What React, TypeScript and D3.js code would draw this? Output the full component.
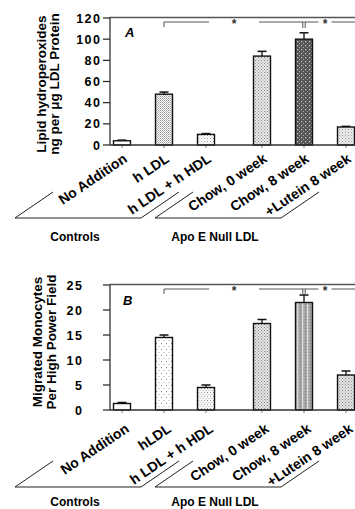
import React from "react";
import * as d3 from "d3";

// ---------- data ----------
const groups = ["Controls", "Apo E Null LDL"];
const groupIndex = [0, 0, 0, 1, 1, 1];

const categoriesA = ["No Addition", "h LDL", "h LDL + h HDL", "Chow, 0 week", "Chow, 8 week", "+Lutein 8 week"];
const valuesA = [4, 48, 10, 84, 100, 17];
const errorsA = [0.6, 2, 0.8, 4.5, 6, 0.6];
const ticksA = [0, 20, 40, 60, 80, 100, 120];
const titleA = ["Lipid hydroperoxides", "ng per \u03bcg LDL Protein"];

const categoriesB = ["No Addition", "hLDL", "h LDL + h HDL", "Chow, 0 week", "Chow, 8 week", "+Lutein 8 week"];
const valuesB = [1.3, 14.5, 4.5, 17.3, 21.5, 7];
const errorsB = [0.2, 0.5, 0.5, 0.8, 1.5, 0.8];
const ticksB = [0, 5, 10, 15, 20, 25];
const titleB = ["Migrated Monocytes", "Per High Power Field"];

const sigPairs = [[1, 4], [4, 5]];
const sigLabel = "*";

// ---------- styles ----------
const FONT = "'Liberation Sans', Arial, Helvetica, sans-serif";
const W = 355;
const H = 509;
const fillsA = ["#fff", "url(#pA1)", "url(#pA2)", "url(#pA3)", "url(#pA4)", "url(#pA5)"];
const fillsB = ["#fff", "url(#pB1)", "url(#pB2)", "url(#pB3)", "url(#pB4)", "url(#pB5)"];
const sigGaps = [25, 6.5];

const xOuter = d3.scaleBand<string>().domain(groups).range([101, 367]).paddingInner(0.1).paddingOuter(0);
const xInner = d3.scaleBand<string>().domain(["0", "1", "2"]).range([0, xOuter.bandwidth()]);
const firstOfGroup = groups.map((_, g) => groupIndex.indexOf(g));
const xc = (i: number) =>
  (xOuter(groups[groupIndex[i]]) as number) +
  (xInner(String(i - firstOfGroup[groupIndex[i]])) as number) +
  xInner.bandwidth() / 2;

type PanelProps = {
  categories: string[];
  values: number[];
  errors: number[];
  ticks: number[];
  yTop: number;
  yBottom: number;
  title: string[];
  titleXs: number[];
  titleY: number;
  letter: string;
  letterX: number;
  letterY: number;
  fills: string[];
  labelDx: number;
  labelDy: number;
  tickLabelX: number;
  bracketY: number;
  groupLabelY: number;
};

function Panel(p: PanelProps) {
  const y = d3
    .scaleLinear()
    .domain([0, d3.max(p.ticks) as number])
    .range([p.yBottom, p.yTop]);
  const y0 = y(0);
  const axisX = 110;
  const barW = 17;
  const sigY = p.yTop + 4;
  const rise = 26;
  const run = 38;
  return (
    <g fontFamily={FONT}>
      {/* title */}
      {p.title.map((t, i) => (
        <text
          key={t}
          transform={`translate(${p.titleXs[i]},${p.titleY}) rotate(-90)`}
          textAnchor="middle"
          fontSize={13.5}
          fontWeight="bold"
        >
          {t}
        </text>
      ))}
      {/* frame */}
      <line x1={axisX} x2={W} y1={p.yTop - 0.5} y2={p.yTop - 0.5} stroke="#555" strokeWidth={1.5} />
      <line x1={axisX} x2={axisX} y1={p.yTop - 0.5} y2={y0} stroke="#222" strokeWidth={1.2} />
      {/* y ticks */}
      {p.ticks.map((t) => (
        <g key={t}>
          <line x1={axisX - 7} x2={axisX} y1={y(t)} y2={y(t)} stroke="#222" strokeWidth={1.2} />
          <text
            x={p.tickLabelX}
            y={y(t)}
            dy="0.36em"
            textAnchor="end"
            fontSize={12.5}
            fontWeight="bold"
            letterSpacing={1.5}
          >
            {t}
          </text>
        </g>
      ))}
      {/* letter */}
      <text x={p.letterX} y={p.letterY} fontSize={13} fontWeight="bold" fontStyle="italic">
        {p.letter}
      </text>
      {/* bars */}
      {p.values.map((v, i) => (
        <g key={i}>
          <line x1={xc(i)} x2={xc(i)} y1={y0} y2={y0 + 3} stroke="#777" strokeWidth={1} />
          <line x1={xc(i)} x2={xc(i)} y1={y(v)} y2={y(v + p.errors[i])} stroke="#111" strokeWidth={1.3} />
          <line
            x1={xc(i) - 4.5}
            x2={xc(i) + 4.5}
            y1={y(v + p.errors[i])}
            y2={y(v + p.errors[i])}
            stroke="#111"
            strokeWidth={1.5}
          />
          <rect
            x={xc(i) - barW / 2}
            y={y(v)}
            width={barW}
            height={y0 - y(v)}
            fill={p.fills[i]}
            stroke="#111"
            strokeWidth={1.4}
          />
        </g>
      ))}
      {/* x axis */}
      <line x1={axisX} x2={W} y1={y0} y2={y0} stroke="#333" strokeWidth={1.5} />
      {/* significance */}
      {sigPairs.map(([a, b], k) => {
        const x1 = xc(a);
        const x2 = k === sigPairs.length - 1 ? W : xc(b);
        const mid = (xc(a) + xc(b)) / 2;
        return (
          <g key={k} stroke="#555" strokeWidth={1}>
            <line x1={x1} x2={mid - sigGaps[k]} y1={sigY} y2={sigY} />
            <line x1={mid + sigGaps[k]} x2={x2} y1={sigY} y2={sigY} />
            {k === 0 ? <line x1={x1} x2={x1} y1={sigY} y2={sigY + 5} /> : null}
            {k === 0 ? (
              <>
                <line x1={xc(b) - 1.2} x2={xc(b) - 1.2} y1={sigY} y2={sigY + 6} />
                <line x1={xc(b) + 1.2} x2={xc(b) + 1.2} y1={sigY} y2={sigY + 6} />
              </>
            ) : null}
            <text x={mid} y={sigY + 6} textAnchor="middle" fontSize={12} fontWeight="bold" stroke="none" fill="#333">
              {sigLabel}
            </text>
          </g>
        );
      })}
      {/* category labels */}
      {p.categories.map((c, i) => (
        <text
          key={c + i}
          transform={`translate(${xc(i) + p.labelDx},${y0 + p.labelDy}) rotate(-34)`}
          textAnchor="end"
          fontSize={14}
          fontWeight="bold"
        >
          {c}
        </text>
      ))}
      {/* group brackets */}
      {groups.map((g) => {
        const s = (xOuter(g) as number) - 86;
        const e = (xOuter(g) as number) + 40;
        return (
          <g key={g}>
            <path
              d={`M${s + run},${p.bracketY - rise} L${s},${p.bracketY} L${e},${p.bracketY} L${e + run},${p.bracketY - rise}`}
              fill="none"
              stroke="#222"
              strokeWidth={1}
            />
            <text x={(s + e) / 2 - 3} y={p.groupLabelY} textAnchor="middle" fontSize={12} fontWeight="bold">
              {g}
            </text>
          </g>
        );
      })}
    </g>
  );
}

export default function App() {
  return (
    <svg
      width={W}
      height={H}
      viewBox={`0 0 ${W} ${H}`}
      style={{ position: "absolute", left: 0, top: 0, background: "#fff" }}
    >
      <defs>
        <pattern id="pA1" width={2} height={2} patternUnits="userSpaceOnUse">
          <rect width={2} height={2} fill="#fff" />
          <rect x={0} y={0} width={1} height={1} fill="#999" />
          <rect x={1} y={1} width={1} height={1} fill="#bbb" />
        </pattern>
        <pattern id="pA2" width={3} height={3} patternUnits="userSpaceOnUse">
          <rect width={3} height={3} fill="#fff" />
          <rect x={0} y={0} width={1} height={1} fill="#999" />
          <rect x={1.5} y={1.5} width={1} height={1} fill="#bbb" />
        </pattern>
        <pattern id="pA3" width={3} height={3} patternUnits="userSpaceOnUse">
          <rect width={3} height={3} fill="#e8e8e8" />
          <rect x={0} y={0} width={1} height={1} fill="#888" />
          <rect x={1.5} y={1.5} width={1} height={1} fill="#999" />
        </pattern>
        <pattern id="pA4" width={4} height={4} patternUnits="userSpaceOnUse">
          <rect width={4} height={4} fill="#555" />
          <rect x={1} y={1} width={1.2} height={1.2} fill="#ccc" />
          <rect x={3} y={3} width={1} height={1} fill="#aaa" />
        </pattern>
        <pattern id="pA5" width={3} height={3} patternUnits="userSpaceOnUse">
          <rect width={3} height={3} fill="#eee" />
          <rect x={0} y={0} width={1} height={1} fill="#999" />
          <rect x={1.5} y={1.5} width={1} height={1} fill="#aaa" />
        </pattern>
        <pattern id="pB1" width={5} height={6} patternUnits="userSpaceOnUse">
          <rect width={5} height={6} fill="#fff" />
          <rect x={1} y={1} width={1} height={1} fill="#888" />
          <rect x={3.5} y={4} width={1} height={1} fill="#aaa" />
        </pattern>
        <pattern id="pB2" width={3} height={4} patternUnits="userSpaceOnUse">
          <rect width={3} height={4} fill="#fafafa" />
          <rect x={0} y={0} width={1} height={1} fill="#999" />
          <rect x={1.5} y={2} width={1} height={1} fill="#aaa" />
        </pattern>
        <pattern id="pB3" width={3} height={3} patternUnits="userSpaceOnUse">
          <rect width={3} height={3} fill="#e4e4e4" />
          <rect x={0} y={0} width={1} height={1} fill="#888" />
          <rect x={1.5} y={1.5} width={1} height={1} fill="#999" />
        </pattern>
        <pattern id="pB4" width={5} height={3} patternUnits="userSpaceOnUse">
          <rect width={5} height={3} fill="#a8a8a8" />
          <rect x={2} y={0} width={1.2} height={3} fill="#ddd" />
          <rect x={0} y={1} width={1} height={1} fill="#777" />
        </pattern>
        <pattern id="pB5" width={3} height={3} patternUnits="userSpaceOnUse">
          <rect width={3} height={3} fill="#e4e4e4" />
          <rect x={0} y={0} width={1} height={1} fill="#888" />
          <rect x={1.5} y={1.5} width={1} height={1} fill="#999" />
        </pattern>
      </defs>
      <Panel
        categories={categoriesA}
        values={valuesA}
        errors={errorsA}
        ticks={ticksA}
        yTop={18}
        yBottom={145}
        title={titleA}
        titleXs={[46, 58.5]}
        titleY={84}
        letter="A"
        letterX={125}
        letterY={37}
        fills={fillsA}
        labelDx={6}
        labelDy={16}
        tickLabelX={101.5}
        bracketY={218}
        groupLabelY={241}
      />
      <Panel
        categories={categoriesB}
        values={valuesB}
        errors={errorsB}
        ticks={ticksB}
        yTop={285}
        yBottom={410}
        title={titleB}
        titleXs={[42, 56]}
        titleY={342}
        letter="B"
        letterX={123}
        letterY={305}
        fills={fillsB}
        labelDx={8}
        labelDy={21}
        tickLabelX={83.5}
        bracketY={487}
        groupLabelY={506}
      />
    </svg>
  );
}
